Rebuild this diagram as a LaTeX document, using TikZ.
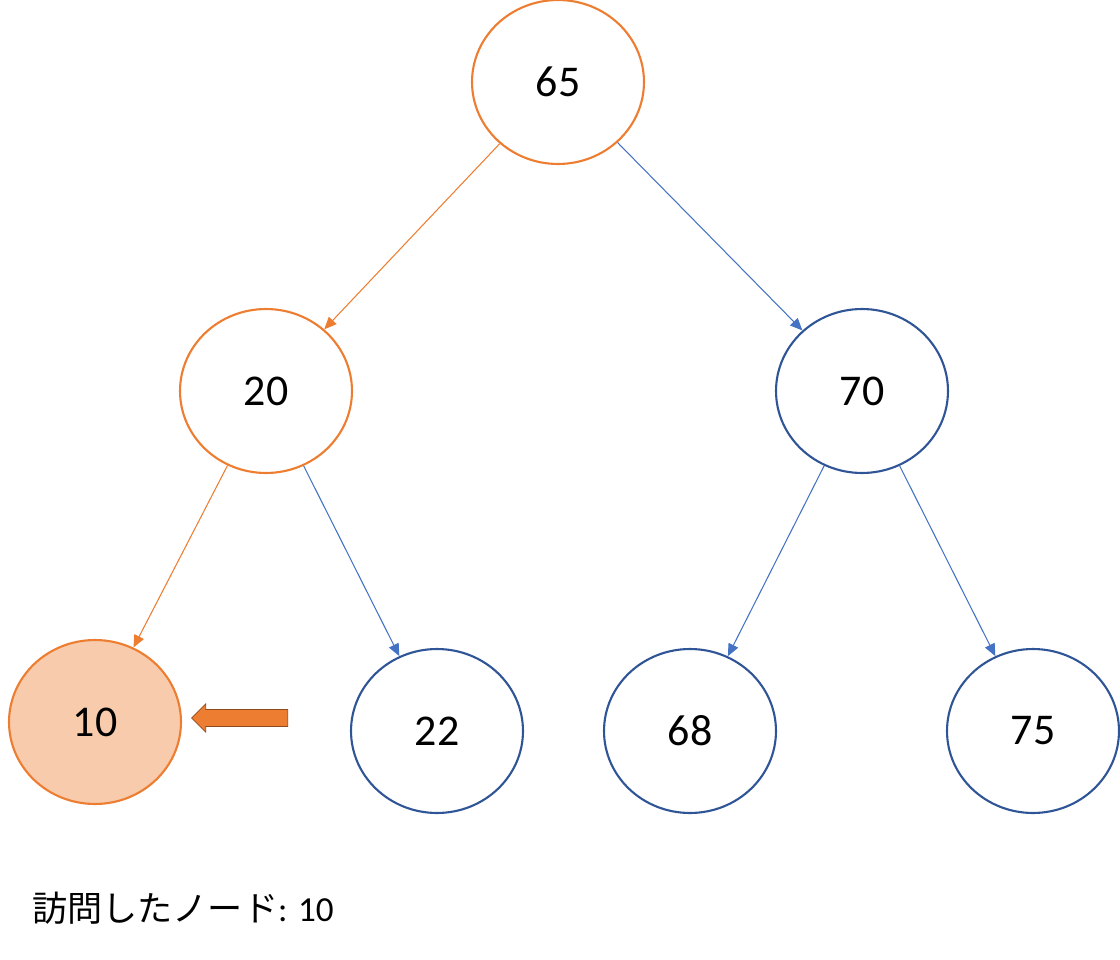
\documentclass[tikz,border=0pt]{standalone}
\usepackage{fontspec}
\setmainfont{Carlito}
\newfontfamily\cjk{Noto Sans CJK JP}
\usetikzlibrary{shapes.geometric,shapes.arrows,arrows.meta}
\definecolor{visitorange}{HTML}{ED7D31}
\definecolor{visitfill}{HTML}{F8CBAD}
\definecolor{nodeblue}{HTML}{2F5597}
\definecolor{edgeblue}{HTML}{4472C4}
\begin{document}
\begin{tikzpicture}[x=0.02cm, y=-0.02cm,
  tree/.style={draw=nodeblue, line width=1.2pt, ellipse, minimum width=3.44cm, minimum height=3.28cm, font=\fontsize{25}{30}\selectfont},
  visited/.style={tree, draw=visitorange},
  edge/.style={-{Triangle[length=7pt, width=6pt]}, edgeblue, line width=0.6pt},
  hot/.style={edge, visitorange}]
\useasboundingbox (0,0) rectangle (1120,960);

  % Nodes
  \node[visited] (n65) at (558,82) {65};
  \node[visited] (n20) at (266,391) {20};
  \node[tree] (n70) at (862,391) {70};
  \node[visited, fill=visitfill] (n10) at (95,722) {10};
  \node[tree] (n22) at (437,731) {22};
  \node[tree] (n68) at (690,731) {68};
  \node[tree] (n75) at (1033,731) {75};

  % Edges
  \draw[hot] (n65) -- (n20);
  \draw[edge] (n65) -- (n70);
  \draw[hot] (n20) -- (n10);
  \draw[edge] (n20) -- (n22);
  \draw[edge] (n70) -- (n68);
  \draw[edge] (n70) -- (n75);

  % Pointer
  \node[single arrow, draw=visitorange!60!black, fill=visitorange, shape border rotate=180,
    minimum width=0.56cm, minimum height=1.92cm, single arrow head extend=0.08cm,
    single arrow tip angle=90, inner sep=0.12cm] (ptr) at (244,718) {};

  % Label
  \node[anchor=west, font=\fontsize{20}{24}\selectfont] (lbl) at (26,908) {{\cjk 訪問したノード}: 10};
\end{tikzpicture}
\end{document}
